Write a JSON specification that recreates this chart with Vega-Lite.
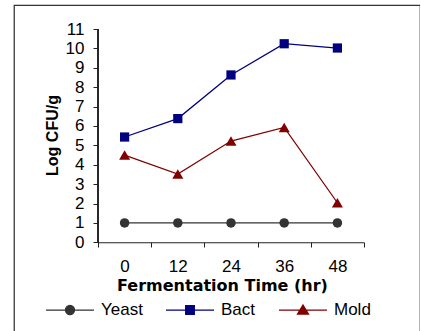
{
  "$schema": "https://vega.github.io/schema/vega-lite/v6.json",
  "autosize": "none",
  "padding": {"left": 14, "top": 5, "right": 0, "bottom": 0},
  "width": 406,
  "height": 330,
  "background": "white",
  "view": {"stroke": "#333333", "strokeWidth": 1.25},
  "data": {
    "values": [
      {"time": "0", "series": "Yeast", "value": 1},
      {"time": "12", "series": "Yeast", "value": 1},
      {"time": "24", "series": "Yeast", "value": 1},
      {"time": "36", "series": "Yeast", "value": 1},
      {"time": "48", "series": "Yeast", "value": 1},
      {"time": "0", "series": "Bact", "value": 5.43},
      {"time": "12", "series": "Bact", "value": 6.38},
      {"time": "24", "series": "Bact", "value": 8.63},
      {"time": "36", "series": "Bact", "value": 10.24},
      {"time": "48", "series": "Bact", "value": 10.02},
      {"time": "0", "series": "Mold", "value": 4.5},
      {"time": "12", "series": "Mold", "value": 3.52},
      {"time": "24", "series": "Mold", "value": 5.22},
      {"time": "36", "series": "Mold", "value": 5.92},
      {"time": "48", "series": "Mold", "value": 2.04}
    ]
  },
  "config": {
    "axisY": {
      "labelOverlap": false,
      "labelFont": "Liberation Sans", "labelFontSize": 17, "labelColor": "black", "labelPadding": 9,
      "tickSize": 5, "tickColor": "#222222", "tickWidth": 1, "grid": false, "domain": false
    },
    "axisX": {
      "labelOverlap": false,
      "labelFont": "Liberation Sans", "labelFontSize": 17, "labelColor": "black", "labelPadding": 11,
      "tickSize": 5, "tickColor": "#222222", "tickWidth": 1, "grid": false, "domain": false
    }
  },
  "encoding": {
    "y": {
      "field": "value", "type": "quantitative",
      "scale": {"domain": [-4.781, 12.238], "nice": false, "zero": false},
      "axis": {
        "orient": "left", "offset": -84, "domain": false, "grid": false,
        "values": [0, 1, 2, 3, 4, 5, 6, 7, 8, 9, 10, 11],
        "labelOverlap": false, "labelFontSize": 17, "labelFont": "Liberation Sans", "labelPadding": 9,
        "title": "Log CFU/g", "titleFont": "Liberation Sans", "titleFontWeight": "bold", "titleFontSize": 16, "titleColor": "black",
        "titleX": -38, "titleY": 130, "titleBaseline": "bottom", "titleAngle": -90
      }
    }
  },
  "layer": [
    {
      "mark": {"type": "line", "strokeWidth": 1.25},
      "encoding": {
        "x": {
          "field": "time", "type": "nominal",
          "scale": {"type": "band", "domain": ["0", "12", "24", "36", "48"], "range": [84, 350], "paddingInner": 0, "paddingOuter": 0},
          "axis": {
            "orient": "bottom", "offset": -93, "domain": false, "tickBand": "extent",
            "labelAngle": 0,
            "title": "Fermentation Time (hr)", "titleFont": "DejaVu Sans", "titleFontWeight": "bold", "titleFontSize": 16, "titleColor": "black",
            "titlePadding": 3, "titleX": 208
          }
        },
        "color": {
          "field": "series", "type": "nominal",
          "scale": {"domain": ["Yeast", "Bact", "Mold"], "range": ["#333333", "#000080", "#800000"]},
          "legend": {
            "orient": "none", "legendX": 31, "legendY": 280, "direction": "horizontal", "title": null,
            "padding": 0, "columnPadding": 20, "labelOffset": 6,
            "symbolSize": 2304, "symbolStrokeWidth": 1.25,
            "labelFont": "Liberation Sans", "labelFontSize": 17, "labelColor": "black",
            "encode": {
              "symbols": {
                "update": {
                  "shape": {"signal": "datum.value === 'Yeast' ? 'M-1,0H1M0.19,0A0.19,0.19,0,1,1,-0.19,0A0.19,0.19,0,1,1,0.19,0Z' : datum.value === 'Bact' ? 'M-1,0H1M-0.18,-0.18H0.18V0.18H-0.18Z' : 'M-1,0H1M0,-0.21L0.23,0.17H-0.23Z'"},
                  "fill": {"scale": "color", "field": "value"},
                  "stroke": {"scale": "color", "field": "value"},
                  "fillOpacity": {"value": 1},
                  "strokeOpacity": {"value": 1},
                  "opacity": {"value": 1}
                }
              }
            }
          }
        },
        "detail": {"field": "series"}
      }
    },
    {
      "transform": [{"filter": "datum.series === 'Yeast'"}],
      "mark": {"type": "point", "filled": true, "opacity": 1, "shape": "circle", "size": 90},
      "encoding": {
        "x": {"field": "time", "type": "nominal"},
        "color": {"field": "series", "type": "nominal"}
      }
    },
    {
      "transform": [{"filter": "datum.series === 'Bact'"}],
      "mark": {"type": "point", "filled": true, "opacity": 1, "shape": "square", "size": 85},
      "encoding": {
        "x": {"field": "time", "type": "nominal"},
        "color": {"field": "series", "type": "nominal"}
      }
    },
    {
      "transform": [{"filter": "datum.series === 'Mold'"}],
      "mark": {"type": "point", "filled": true, "opacity": 1, "shape": "triangle-up", "size": 121},
      "encoding": {
        "x": {"field": "time", "type": "nominal"},
        "color": {"field": "series", "type": "nominal"}
      }
    },
    {
      "transform": [{"filter": "datum.series === 'Yeast'"}],
      "mark": {"type": "rule", "color": "#222222", "strokeWidth": 1},
      "encoding": {
        "x": {"datum": "0", "type": "nominal", "bandPosition": 0},
        "y": {"datum": 0, "type": "quantitative"},
        "y2": {"datum": 11}
      }
    },
    {
      "transform": [{"filter": "datum.series === 'Yeast'"}],
      "mark": {"type": "bar", "color": "#222222"},
      "encoding": {
        "x": {"field": "time", "type": "nominal"},
        "y": {"datum": 0, "type": "quantitative"},
        "y2": {"datum": -0.055}
      }
    }
  ]
}
